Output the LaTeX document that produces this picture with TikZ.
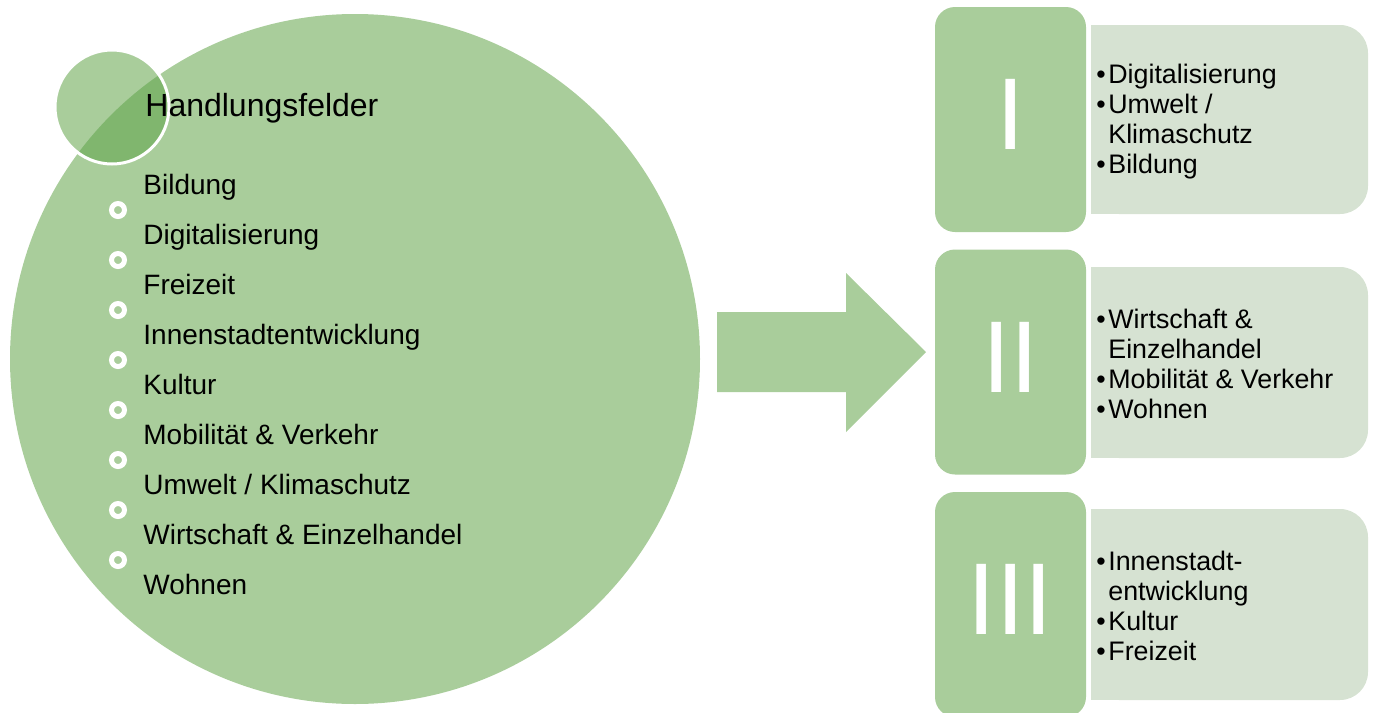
\documentclass[tikz,border=0pt]{standalone}
\usepackage{fontspec}
\setmainfont{Liberation Sans}
\definecolor{leafgreen}{RGB}{169,205,155}
\definecolor{deepgreen}{RGB}{128,182,110}
\definecolor{palegreen}{RGB}{214,226,210}
\newcommand{\pt}[1]{\makebox[6pt][l]{\textbullet}#1}
\tikzset{
  field/.style={anchor=base west, inner sep=0pt, font=\fontsize{14}{16}\selectfont},
  ring/.style={draw=white, line width=2.5pt, fill=leafgreen},
  numeral/.style={rounded corners=10pt, fill=leafgreen, minimum width=75.5pt,
    minimum height=112.5pt, inner sep=0pt, text=white, text depth=5pt,
    font=\fontsize{51}{51}\selectfont},
  listing/.style={anchor=west, inner sep=0pt, align=left,
    font=\fontsize{13.4}{15}\selectfont}
}
\begin{document}
\begin{tikzpicture}[x=0.5pt,y=-0.5pt]
\useasboundingbox (0,0) rectangle (1373,713);
\clip (0,0) rectangle (1373,713);
% big circle with the title circle
\fill[leafgreen] (355,359) circle[radius=172.5pt];
\fill[leafgreen] (112,107) circle[radius=28.5pt];
\begin{scope}
  \clip (355,359) circle[radius=172.5pt];
  \fill[deepgreen] (112,107) circle[radius=28.5pt];
\end{scope}
\draw[white, line width=1.5pt] (112,107) circle[radius=28.5pt];
\node[anchor=base west, inner sep=0pt, font=\fontsize{16}{19}\selectfont] (title) at (145,116) {Handlungsfelder};
\node[field] (bildung) at (143,194) {Bildung};
\node[field] (digital) at (143,244) {Digitalisierung};
\node[field] (freizeit) at (143,294) {Freizeit};
\node[field] (innen) at (143,344) {Innenstadtentwicklung};
\node[field] (kultur) at (143,394) {Kultur};
\node[field] (mobil) at (143,444) {Mobilität \& Verkehr};
\node[field] (umwelt) at (143,494) {Umwelt / Klimaschutz};
\node[field] (wirtschaft) at (143,544) {Wirtschaft \& Einzelhandel};
\node[field] (wohnen) at (143,594) {Wohnen};
\draw[ring] (118,210) circle (6.5);
\draw[ring] (118,260) circle (6.5);
\draw[ring] (118,310) circle (6.5);
\draw[ring] (118,360) circle (6.5);
\draw[ring] (118,410) circle (6.5);
\draw[ring] (118,460) circle (6.5);
\draw[ring] (118,510) circle (6.5);
\draw[ring] (118,560) circle (6.5);
% arrow
\fill[leafgreen] (717,312) -- (846,312) -- (846,273) -- (926,352) -- (846,432) -- (846,392) -- (717,392) -- cycle;
% groups (square on the left, round on the right)
\fill[palegreen, rounded corners=14pt] (1091,25) rectangle (1368,214);
\fill[palegreen] (1091,25) rectangle (1200,214);
\fill[palegreen, rounded corners=14pt] (1091,267) rectangle (1368,458);
\fill[palegreen] (1091,267) rectangle (1200,458);
\fill[palegreen, rounded corners=14pt] (1091,509) rectangle (1368,700);
\fill[palegreen] (1091,509) rectangle (1200,700);
\node[numeral] (one) at (1010.5,119.5) {I};
\node[numeral] (two) at (1010.5,362) {II};
\node[numeral] (three) at (1010.5,604.5) {III};
\node[listing] (listone) at (1096,121.5) {\pt{Digitalisierung}\\\pt{Umwelt /}\\\hspace*{6pt}Klimaschutz\\\pt{Bildung}};
\node[listing] (listtwo) at (1096,364) {\pt{Wirtschaft \&}\\\hspace*{6pt}Einzelhandel\\\pt{Mobilität \& Verkehr}\\\pt{Wohnen}};
\node[listing] (listthree) at (1096,606) {\pt{Innenstadt-}\\\hspace*{6pt}entwicklung\\\pt{Kultur}\\\pt{Freizeit}};
\end{tikzpicture}
\end{document}
